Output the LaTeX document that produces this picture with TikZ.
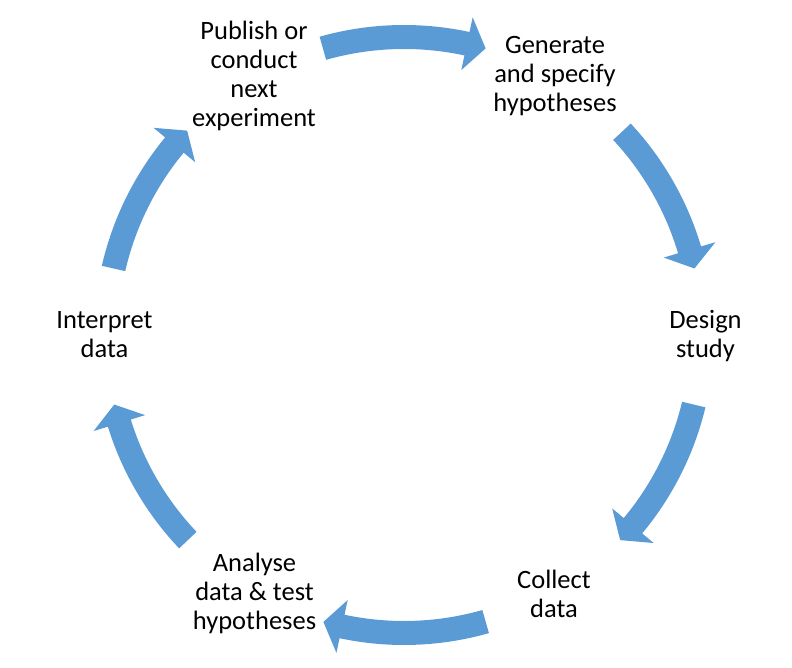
\documentclass[tikz,border=0pt]{standalone}
\usepackage{fontspec}
\setmainfont{Carlito}
\definecolor{arrowblue}{HTML}{5B9BD5}
\newcommand\stacklines[1]{\vtop{\lineskiplimit=-20pt\halign{\hfil##\hfil\cr#1\crcr}}}
\newcommand\cyclearrow[2]{%
  \pgfmathsetmacro\hb{#2+3.7}%
  \fill[arrowblue] (#1:310pt) arc[start angle=#1, end angle=\hb, radius=310pt]
    -- (\hb:325pt) -- (#2:298pt) -- (\hb:271pt) -- (\hb:286pt)
    arc[start angle=\hb, end angle=#1, radius=286pt] -- cycle;}
\tikzset{lbl/.style={anchor=base, inner sep=0pt, text=black, font=\fontsize{26.5}{29}\selectfont}}
\begin{document}
\begin{tikzpicture}
\useasboundingbox (0pt,0pt) rectangle (792pt,668pt);
\node[lbl] (publish) at (254pt,628pt) {\stacklines{Publish or\cr conduct\cr next\cr experiment}};
\node[lbl] (generate) at (555pt,614pt) {\stacklines{Generate\cr and specify\cr hypotheses}};
\node[lbl] (design) at (705.5pt,339.3pt) {\stacklines{Design\cr study}};
\node[lbl] (collect) at (554pt,79.2pt) {\stacklines{Collect\cr data}};
\node[lbl] (analyse) at (254.5pt,96.2pt) {\stacklines{Analyse\cr data \& test\cr hypotheses}};
\node[lbl] (interpret) at (104.5pt,339.2pt) {\stacklines{Interpret\cr data}};
\begin{scope}[shift={(404pt,333pt)}]
\cyclearrow{105.8}{74.1}
\cyclearrow{43}{12.9}
\cyclearrow{-13.5}{-43.5}
\cyclearrow{-74.1}{-105.7}
\cyclearrow{-136.5}{-166.5}
\cyclearrow{167.1}{136.7}
\end{scope}
\end{tikzpicture}
\end{document}
